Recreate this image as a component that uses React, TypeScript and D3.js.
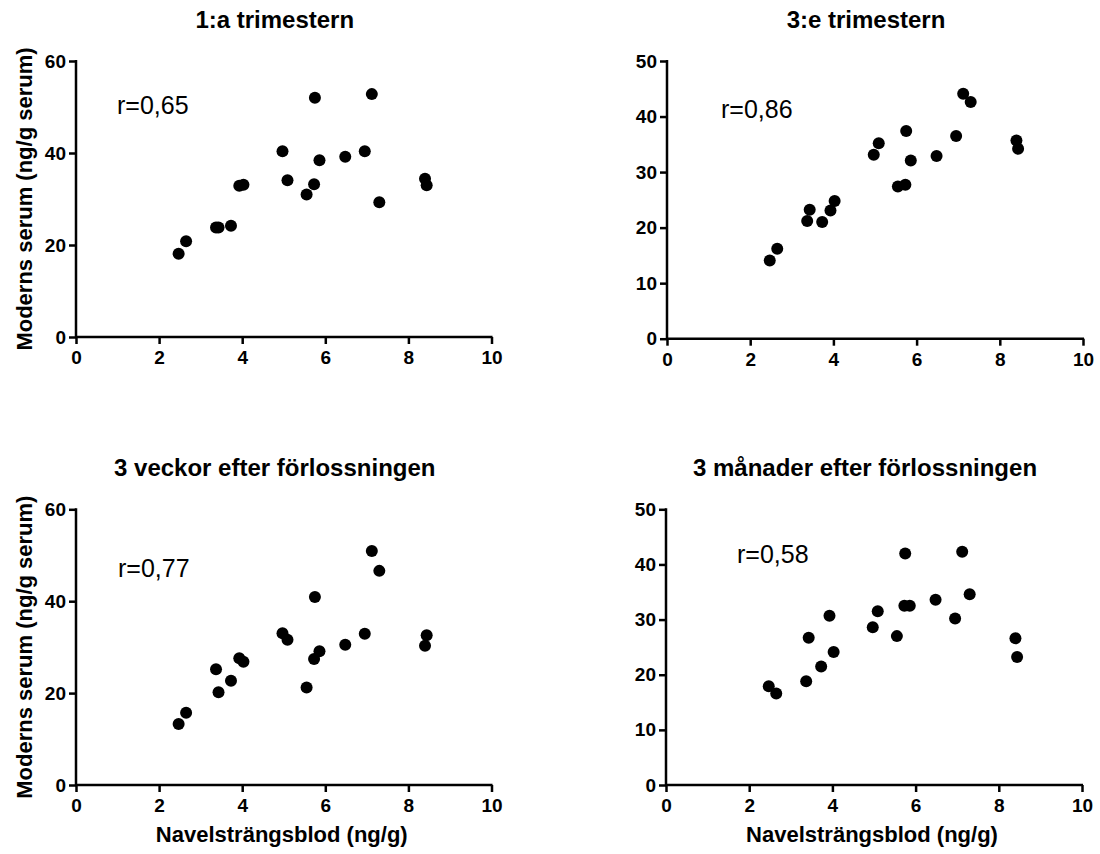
import React, { useEffect, useRef } from 'react';
import * as d3 from 'd3';

// Navelsträngsblod (ng/g) - same women in all four panels
const cordBlood = [2.47, 2.65, 3.37, 3.43, 3.73, 3.93, 4.03, 4.97, 5.09, 5.55, 5.73, 5.75, 5.86, 6.48, 6.95, 7.12, 7.30, 8.40, 8.44];

// Moderns serum (ng/g serum)
const trimester1 = [18.1, 20.8, 23.8, 23.8, 24.2, 32.9, 33.1, 40.4, 34.1, 31.0, 33.2, 52.0, 38.4, 39.2, 40.4, 52.8, 29.3, 34.4, 33.0];
const trimester3 = [14.1, 16.2, 21.2, 23.2, 21.0, 23.1, 24.8, 33.1, 35.2, 27.4, 27.7, 37.4, 32.1, 32.9, 36.5, 44.1, 42.6, 35.7, 34.2];
const weeks3 = [13.3, 15.7, 25.2, 20.2, 22.7, 27.6, 26.8, 33.0, 31.6, 21.2, 27.4, 40.9, 29.1, 30.5, 32.9, 50.9, 46.6, 30.3, 32.6];
const months3 = [17.9, 16.6, 18.8, 26.7, 21.5, 30.7, 24.1, 28.6, 31.5, 27.0, 32.5, 42.0, 32.5, 33.6, 30.2, 42.3, 34.6, 26.6, 23.2];

const titles = ['1:a trimestern', '3:e trimestern', '3 veckor efter förlossningen', '3 månader efter förlossningen'];
const rLabels = ['r=0,65', 'r=0,86', 'r=0,77', 'r=0,58'];
const yMax = [60, 50, 60, 50];
const yTicks = [[0, 20, 40, 60], [0, 10, 20, 30, 40, 50], [0, 20, 40, 60], [0, 10, 20, 30, 40, 50]];
const xTicks = [0, 2, 4, 6, 8, 10];

const FONT = '"Liberation Sans", Arial, Helvetica, sans-serif';

const App = () => {
  const ref = useRef<HTMLDivElement>(null);

  useEffect(() => {
    d3.select(ref.current).selectAll('svg').remove();

    const width = 1100;
    const height = 854;
    const series = [trimester1, trimester3, weeks3, months3];

    // plot boxes: [left, right, bottom, top]
    const boxes = [
      [76, 491.5, 337, 61],
      [667, 1083, 338.7, 61],
      [76, 491.5, 785, 509.3],
      [666, 1082, 785, 509.3]
    ];
    // where the r label sits (left x, baseline y)
    const rPos = [[117, 114], [721, 118], [118, 577], [737, 563]];

    const svg = d3.select(ref.current)
      .append('svg')
      .attr('width', width)
      .attr('height', height)
      .attr('viewBox', `0 0 ${width} ${height}`)
      .style('display', 'block')
      .style('font-family', FONT);

    series.forEach((values, i) => {
      const [l, r, b, t] = boxes[i];
      const x = d3.scaleLinear().domain([0, 10]).range([l, r]);
      const y = d3.scaleLinear().domain([0, yMax[i]]).range([b, t]);
      const g = svg.append('g');

      // Title
      g.append('text')
        .attr('x', (l + r) / 2 - 9)
        .attr('y', i < 2 ? 28 : 476)
        .attr('text-anchor', 'middle')
        .attr('font-size', 24)
        .attr('font-weight', 700)
        .text(titles[i]);

      // X axis
      const xAxis = g.append('g')
        .attr('transform', `translate(0, ${b})`)
        .call(d3.axisBottom(x).tickValues(xTicks).tickSize(7).tickPadding(7).tickSizeOuter(0));
      xAxis.select('.domain').attr('stroke-width', 2.5).attr('d', `M${l - 1},0H${r + 1}`);
      xAxis.selectAll('.tick line').attr('stroke-width', 2.5);
      xAxis.selectAll('.tick text')
        .attr('font-family', FONT)
        .attr('font-size', 19)
        .attr('font-weight', 700)
        .attr('fill', '#000');

      // Y axis
      const yAxis = g.append('g')
        .attr('transform', `translate(${l}, 0)`)
        .call(d3.axisLeft(y).tickValues(yTicks[i]).tickSize(7).tickPadding(3).tickSizeOuter(0));
      yAxis.select('.domain').attr('stroke-width', 2.5).attr('d', `M0,${b + 1}V${t - 1}`);
      yAxis.selectAll('.tick line').attr('stroke-width', 2.5);
      yAxis.selectAll('.tick text')
        .attr('font-family', FONT)
        .attr('font-size', 19)
        .attr('font-weight', 700)
        .attr('fill', '#000');

      // Points
      g.append('g').selectAll('circle')
        .data(values).enter()
        .append('circle')
        .attr('cx', (d, j) => x(cordBlood[j]))
        .attr('cy', d => y(d))
        .attr('r', 6)
        .attr('fill', '#000');

      // Correlation
      g.append('text')
        .attr('x', rPos[i][0])
        .attr('y', rPos[i][1])
        .attr('font-size', 25)
        .text(rLabels[i]);

      // Axis titles, left column and bottom row only
      if (i % 2 === 0) {
        g.append('text')
          .attr('transform', `translate(32, ${(b + t) / 2}) rotate(-90)`)
          .attr('text-anchor', 'middle')
          .attr('font-size', 22)
          .attr('font-weight', 700)
          .text('Moderns serum (ng/g serum)');
      }
      if (i >= 2) {
        g.append('text')
          .attr('x', (l + r) / 2 - 2)
          .attr('y', 842)
          .attr('text-anchor', 'middle')
          .attr('font-size', 22)
          .attr('font-weight', 700)
          .text('Navelsträngsblod (ng/g)');
      }
    });
  }, []);

  return (
    <div ref={ref} style={{ position: 'absolute', left: 0, top: 0 }}></div>
  );
};

export default App;
